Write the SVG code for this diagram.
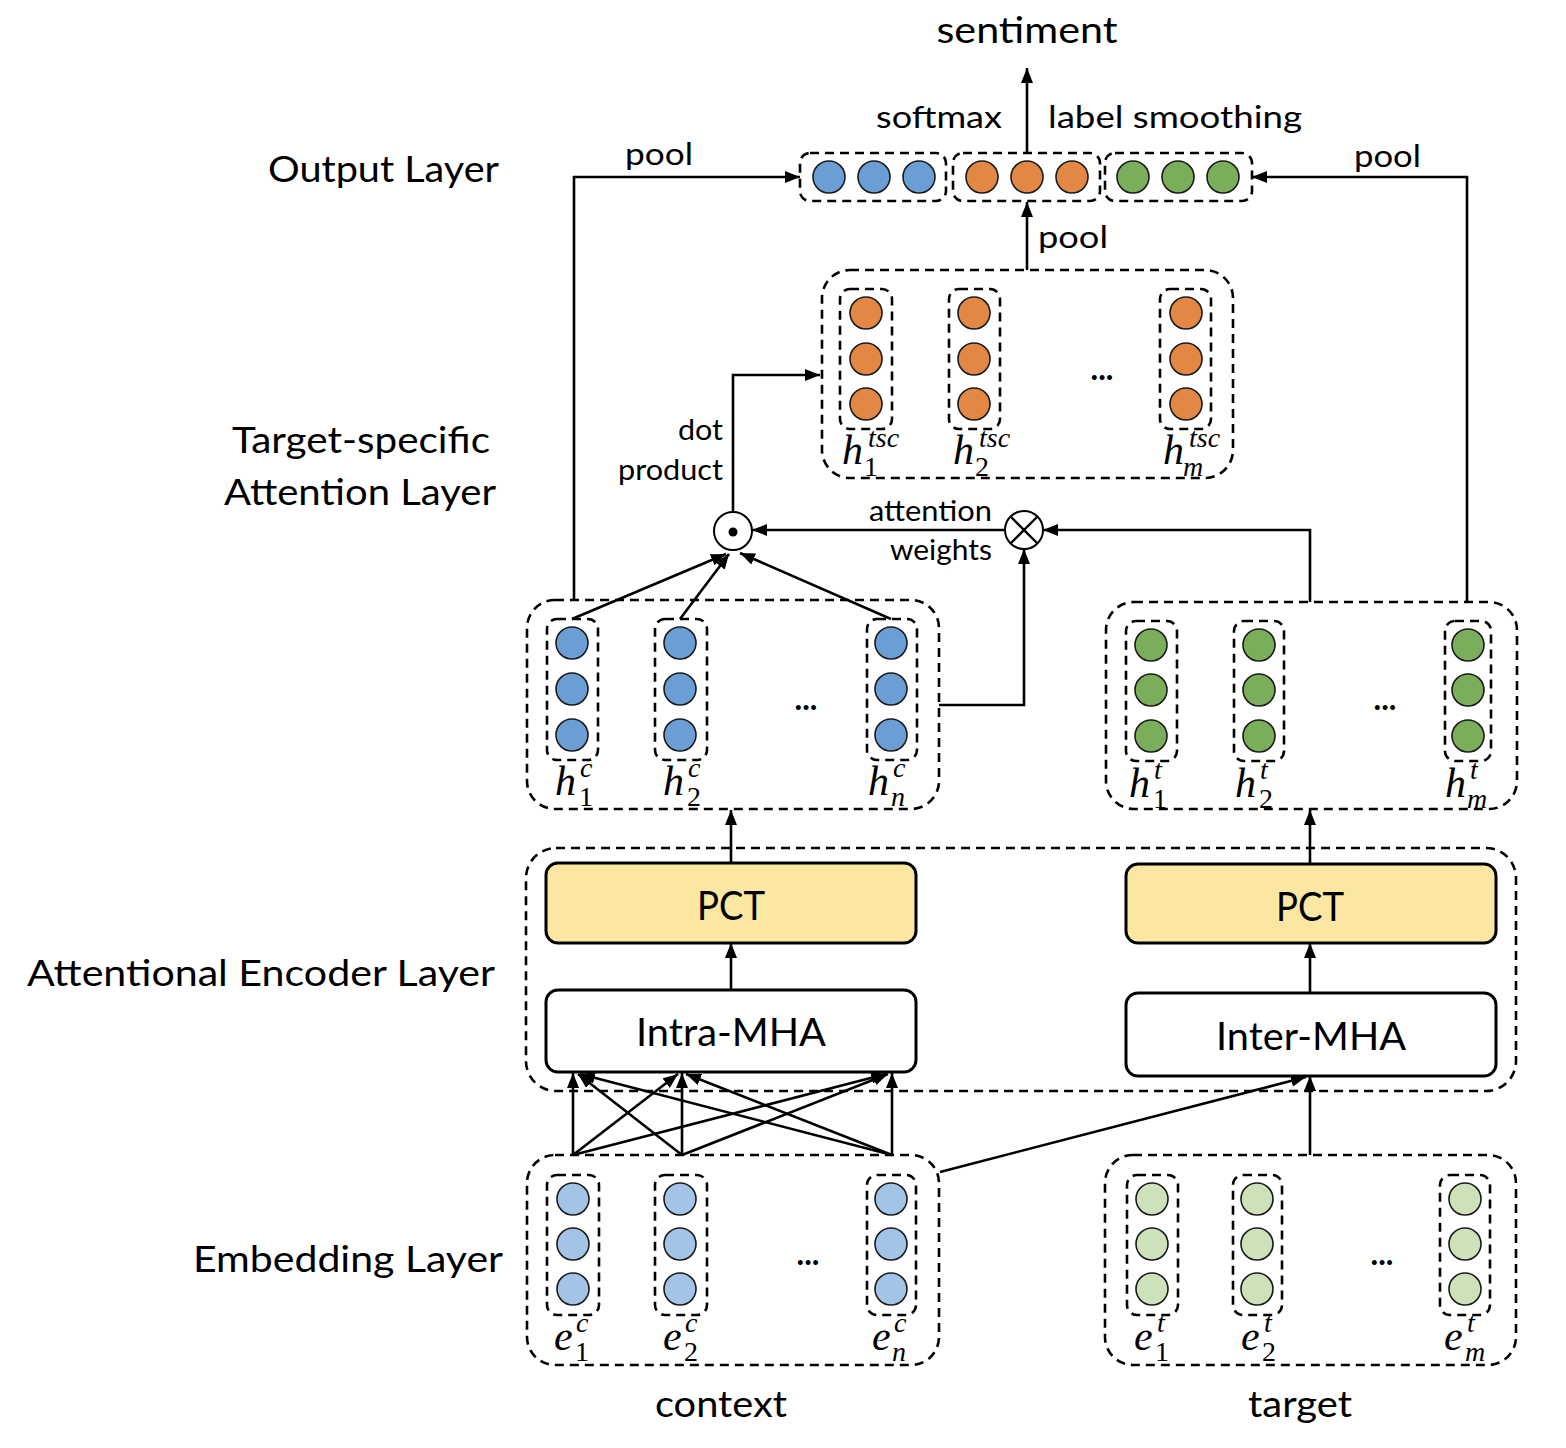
<svg xmlns="http://www.w3.org/2000/svg" width="1566" height="1448" viewBox="0 0 1566 1448">
<defs>
<marker id="ah" viewBox="0 0 15 12" refX="15" refY="6" markerWidth="15" markerHeight="12" orient="auto" markerUnits="userSpaceOnUse"><path d="M0,0 L15,6 L0,12 z" fill="#000"/></marker>
</defs>
<style>
.t{font-family:Lato,"Liberation Sans",sans-serif;fill:#000}
.big{font-size:37px}
.mid{font-size:31px}
.sm{font-size:28px}
.box{font-size:38px}
.mi{font-family:"Liberation Serif",serif;font-style:italic;font-size:42px;fill:#000}
.ms{font-family:"Liberation Serif",serif;font-style:italic;font-size:28px}
.mn{font-family:"Liberation Serif",serif;font-style:normal;font-size:28px}
.dots{font-family:Lato,"Liberation Sans",sans-serif;font-size:32px;font-weight:bold;fill:#000}
.dash{fill:none;stroke:#000;stroke-width:2.6;stroke-dasharray:9 6}
.solid{stroke:#000;stroke-width:3}
.c{stroke:#1a1a1a;stroke-width:1.6}
.blue{fill:#6A9ED5}.orange{fill:#E28744}.green{fill:#7BAE5A}.lblue{fill:#A4C4E7}.lgreen{fill:#CDE1BB}
.arr{fill:none;stroke:#000;stroke-width:2.6;marker-end:url(#ah)}
</style>
<rect width="1566" height="1448" fill="#fff"/>

<g id="layer-labels">
<text class="t big" x="268" y="182" textLength="231" lengthAdjust="spacingAndGlyphs">Output Layer</text>
<text class="t big" x="232" y="453" textLength="258" lengthAdjust="spacingAndGlyphs">Target-specific</text>
<text class="t big" x="224" y="505" textLength="272" lengthAdjust="spacingAndGlyphs">Attention Layer</text>
<text class="t big" x="27" y="986" textLength="468" lengthAdjust="spacingAndGlyphs">Attentional Encoder Layer</text>
<text class="t big" x="193" y="1272" textLength="310" lengthAdjust="spacingAndGlyphs">Embedding Layer</text>
</g>

<g id="connectors">
<path class="arr" d="M1027,152 L1027,68"/>
<path class="arr" d="M574,600 L574,177 L800,177"/>
<path class="arr" d="M1467,602 L1467,177 L1252,177"/>
<path class="arr" d="M1027,270 L1027,202"/>
<path class="arr" d="M733,511 L733,375 L820,375"/>
<path class="arr" d="M1005,530 L752,530"/>
<path class="arr" d="M1310,602 L1310,530 L1043,530"/>
<path class="arr" d="M939,705 L1024,705 L1024,549"/>
<path class="arr" d="M572,619 L726,554"/>
<path class="arr" d="M680,619 L729,554"/>
<path class="arr" d="M891,619 L740,553"/>
<path class="arr" d="M731,863 L731,810"/>
<path class="arr" d="M731,990 L731,943"/>
<path class="arr" d="M1310,864 L1310,810"/>
<path class="arr" d="M1310,993 L1310,943"/>
<path class="arr" d="M573,1155 L573,1073"/>
<path class="arr" d="M682,1155 L682,1073"/>
<path class="arr" d="M892,1155 L892,1073"/>
<path class="arr" d="M682,1155 L578,1074"/>
<path class="arr" d="M892,1155 L580,1074"/>
<path class="arr" d="M573,1155 L678,1074"/>
<path class="arr" d="M892,1155 L686,1074"/>
<path class="arr" d="M573,1155 L886,1074"/>
<path class="arr" d="M682,1155 L888,1074"/>
<path class="arr" d="M940,1172 L1306,1077"/>
<path class="arr" d="M1310,1155 L1310,1076"/>
</g>

<g id="output-text">
<text class="t big" x="1027" y="43" text-anchor="middle" textLength="181" lengthAdjust="spacingAndGlyphs">sentiment</text>
<text class="t mid" x="876" y="128" textLength="126" lengthAdjust="spacingAndGlyphs">softmax</text>
<text class="t mid" x="1048" y="128" textLength="254" lengthAdjust="spacingAndGlyphs">label smoothing</text>
<text class="t mid" x="625" y="165" textLength="68" lengthAdjust="spacingAndGlyphs">pool</text>
<text class="t mid" x="1354" y="167" textLength="67" lengthAdjust="spacingAndGlyphs">pool</text>
<text class="t mid" x="1038" y="248" textLength="70" lengthAdjust="spacingAndGlyphs">pool</text>
</g>
<g id="out-context">
<rect class="dash" x="800" y="153" width="146" height="48" rx="10"/>
<circle class="c blue" cx="829" cy="177" r="16"/><circle class="c blue" cx="874" cy="177" r="16"/><circle class="c blue" cx="919" cy="177" r="16"/>
</g>
<g id="out-tsc">
<rect class="dash" x="953" y="153" width="147" height="48" rx="10"/>
<circle class="c orange" cx="982" cy="177" r="16"/><circle class="c orange" cx="1027" cy="177" r="16"/><circle class="c orange" cx="1072" cy="177" r="16"/>
</g>
<g id="out-target">
<rect class="dash" x="1105" y="153" width="147" height="48" rx="10"/>
<circle class="c green" cx="1133" cy="177" r="16"/><circle class="c green" cx="1178" cy="177" r="16"/><circle class="c green" cx="1223" cy="177" r="16"/>
</g>

<g id="tsc">
<rect class="dash" x="822" y="270" width="411" height="208" rx="28"/>
<rect class="dash" x="840" y="289" width="52" height="140" rx="10"/>
<rect class="dash" x="949" y="289" width="51" height="140" rx="10"/>
<rect class="dash" x="1160" y="289" width="51" height="140" rx="10"/>
<circle class="c orange" cx="866" cy="313" r="16"/><circle class="c orange" cx="866" cy="359" r="16"/><circle class="c orange" cx="866" cy="404" r="16"/>
<circle class="c orange" cx="974" cy="313" r="16"/><circle class="c orange" cx="974" cy="359" r="16"/><circle class="c orange" cx="974" cy="404" r="16"/>
<circle class="c orange" cx="1186" cy="313" r="16"/><circle class="c orange" cx="1186" cy="359" r="16"/><circle class="c orange" cx="1186" cy="404" r="16"/>
<text class="dots" x="1102" y="380" text-anchor="middle">...</text>
<text class="mi" x="842" y="464">h<tspan class="ms" x="868" y="447">tsc</tspan><tspan class="mn" x="864" y="476">1</tspan></text>
<text class="mi" x="953" y="464">h<tspan class="ms" x="979" y="447">tsc</tspan><tspan class="mn" x="975" y="476">2</tspan></text>
<text class="mi" x="1163" y="464">h<tspan class="ms" x="1189" y="447">tsc</tspan><tspan class="ms" x="1183" y="476">m</tspan></text>
</g>

<g id="attention-ops">
<text class="t sm" x="723" y="440" text-anchor="end" textLength="45" lengthAdjust="spacingAndGlyphs">dot</text>
<text class="t sm" x="723" y="480" text-anchor="end" textLength="105" lengthAdjust="spacingAndGlyphs">product</text>
<text class="t sm" x="869" y="521" textLength="123" lengthAdjust="spacingAndGlyphs">attention</text>
<text class="t sm" x="890" y="560" textLength="102" lengthAdjust="spacingAndGlyphs">weights</text>
</g>
<g id="dot-op">
<circle cx="733" cy="531" r="19" fill="#fff" stroke="#000" stroke-width="2"/>
<circle cx="733" cy="532" r="4.5" fill="#000"/>
</g>
<g id="mul-op">
<circle cx="1024" cy="530" r="19" fill="#fff" stroke="#000" stroke-width="2"/>
<path d="M1011,517 L1037,543 M1037,517 L1011,543" stroke="#000" stroke-width="2.4"/>
</g>

<g id="hc">
<rect class="dash" x="527" y="600" width="412" height="209" rx="28"/>
<rect class="dash" x="547" y="619" width="51" height="141" rx="10"/>
<rect class="dash" x="655" y="619" width="52" height="141" rx="10"/>
<rect class="dash" x="867" y="619" width="50" height="141" rx="10"/>
<circle class="c blue" cx="572" cy="643" r="16"/><circle class="c blue" cx="572" cy="689" r="16"/><circle class="c blue" cx="572" cy="735" r="16"/>
<circle class="c blue" cx="680" cy="643" r="16"/><circle class="c blue" cx="680" cy="689" r="16"/><circle class="c blue" cx="680" cy="735" r="16"/>
<circle class="c blue" cx="891" cy="643" r="16"/><circle class="c blue" cx="891" cy="689" r="16"/><circle class="c blue" cx="891" cy="735" r="16"/>
<text class="dots" x="806" y="710" text-anchor="middle">...</text>
<text class="mi" x="555" y="795">h<tspan class="ms" x="580" y="777">c</tspan><tspan class="mn" x="579" y="806">1</tspan></text>
<text class="mi" x="663" y="795">h<tspan class="ms" x="688" y="777">c</tspan><tspan class="mn" x="687" y="806">2</tspan></text>
<text class="mi" x="868" y="795">h<tspan class="ms" x="893" y="777">c</tspan><tspan class="ms" x="891" y="806">n</tspan></text>
</g>
<g id="ht">
<rect class="dash" x="1106" y="602" width="411" height="207" rx="28"/>
<rect class="dash" x="1126" y="621" width="51" height="140" rx="10"/>
<rect class="dash" x="1234" y="621" width="50" height="140" rx="10"/>
<rect class="dash" x="1445" y="621" width="46" height="140" rx="10"/>
<circle class="c green" cx="1151" cy="645" r="16"/><circle class="c green" cx="1151" cy="690" r="16"/><circle class="c green" cx="1151" cy="736" r="16"/>
<circle class="c green" cx="1259" cy="645" r="16"/><circle class="c green" cx="1259" cy="690" r="16"/><circle class="c green" cx="1259" cy="736" r="16"/>
<circle class="c green" cx="1468" cy="645" r="16"/><circle class="c green" cx="1468" cy="690" r="16"/><circle class="c green" cx="1468" cy="736" r="16"/>
<text class="dots" x="1385" y="710" text-anchor="middle">...</text>
<text class="mi" x="1129" y="797">h<tspan class="ms" x="1154" y="779">t</tspan><tspan class="mn" x="1153" y="808">1</tspan></text>
<text class="mi" x="1235" y="797">h<tspan class="ms" x="1260" y="779">t</tspan><tspan class="mn" x="1259" y="808">2</tspan></text>
<text class="mi" x="1445" y="797">h<tspan class="ms" x="1470" y="779">t</tspan><tspan class="ms" x="1467" y="808">m</tspan></text>
</g>

<g id="encoder">
<rect class="dash" x="526" y="848" width="990" height="243" rx="30"/>
</g>
<g id="pct-context">
<rect class="solid" x="546" y="863" width="370" height="80" rx="12" fill="#FBE6A2"/>
<text class="t" x="731" y="920" text-anchor="middle" font-size="40" textLength="68" lengthAdjust="spacingAndGlyphs">PCT</text>
</g>
<g id="pct-target">
<rect class="solid" x="1126" y="864" width="370" height="79" rx="12" fill="#FBE6A2"/>
<text class="t" x="1310" y="921" text-anchor="middle" font-size="40" textLength="68" lengthAdjust="spacingAndGlyphs">PCT</text>
</g>
<g id="intra-mha">
<rect class="solid" x="546" y="990" width="370" height="82" rx="12" fill="#fff"/>
<text class="t box" x="731" y="1046" text-anchor="middle" textLength="190" lengthAdjust="spacingAndGlyphs">Intra-MHA</text>
</g>
<g id="inter-mha">
<rect class="solid" x="1126" y="993" width="370" height="83" rx="12" fill="#fff"/>
<text class="t box" x="1311" y="1050" text-anchor="middle" textLength="190" lengthAdjust="spacingAndGlyphs">Inter-MHA</text>
</g>

<g id="ec">
<rect class="dash" x="527" y="1155" width="412" height="210" rx="28"/>
<rect class="dash" x="547" y="1175" width="52" height="140" rx="10"/>
<rect class="dash" x="655" y="1175" width="52" height="140" rx="10"/>
<rect class="dash" x="867" y="1175" width="49" height="140" rx="10"/>
<circle class="c lblue" cx="573" cy="1199" r="16"/><circle class="c lblue" cx="573" cy="1244" r="16"/><circle class="c lblue" cx="573" cy="1289" r="16"/>
<circle class="c lblue" cx="680" cy="1199" r="16"/><circle class="c lblue" cx="680" cy="1244" r="16"/><circle class="c lblue" cx="680" cy="1289" r="16"/>
<circle class="c lblue" cx="891" cy="1199" r="16"/><circle class="c lblue" cx="891" cy="1244" r="16"/><circle class="c lblue" cx="891" cy="1289" r="16"/>
<text class="dots" x="808" y="1265" text-anchor="middle">...</text>
<text class="mi" x="554" y="1350">e<tspan class="ms" x="576" y="1332">c</tspan><tspan class="mn" x="575" y="1361">1</tspan></text>
<text class="mi" x="663" y="1350">e<tspan class="ms" x="685" y="1332">c</tspan><tspan class="mn" x="684" y="1361">2</tspan></text>
<text class="mi" x="872" y="1350">e<tspan class="ms" x="894" y="1332">c</tspan><tspan class="ms" x="892" y="1361">n</tspan></text>
<text class="t big" x="721" y="1417" text-anchor="middle" textLength="132" lengthAdjust="spacingAndGlyphs">context</text>
</g>
<g id="et">
<rect class="dash" x="1105" y="1155" width="411" height="210" rx="28"/>
<rect class="dash" x="1127" y="1175" width="51" height="140" rx="10"/>
<rect class="dash" x="1233" y="1175" width="49" height="140" rx="10"/>
<rect class="dash" x="1440" y="1175" width="50" height="140" rx="10"/>
<circle class="c lgreen" cx="1152" cy="1199" r="16"/><circle class="c lgreen" cx="1152" cy="1244" r="16"/><circle class="c lgreen" cx="1152" cy="1289" r="16"/>
<circle class="c lgreen" cx="1257" cy="1199" r="16"/><circle class="c lgreen" cx="1257" cy="1244" r="16"/><circle class="c lgreen" cx="1257" cy="1289" r="16"/>
<circle class="c lgreen" cx="1465" cy="1199" r="16"/><circle class="c lgreen" cx="1465" cy="1244" r="16"/><circle class="c lgreen" cx="1465" cy="1289" r="16"/>
<text class="dots" x="1382" y="1265" text-anchor="middle">...</text>
<text class="mi" x="1134" y="1350">e<tspan class="ms" x="1157" y="1332">t</tspan><tspan class="mn" x="1155" y="1361">1</tspan></text>
<text class="mi" x="1241" y="1350">e<tspan class="ms" x="1264" y="1332">t</tspan><tspan class="mn" x="1262" y="1361">2</tspan></text>
<text class="mi" x="1444" y="1350">e<tspan class="ms" x="1467" y="1332">t</tspan><tspan class="ms" x="1465" y="1361">m</tspan></text>
<text class="t big" x="1300" y="1417" text-anchor="middle" textLength="104" lengthAdjust="spacingAndGlyphs">target</text>
</g>
</svg>
